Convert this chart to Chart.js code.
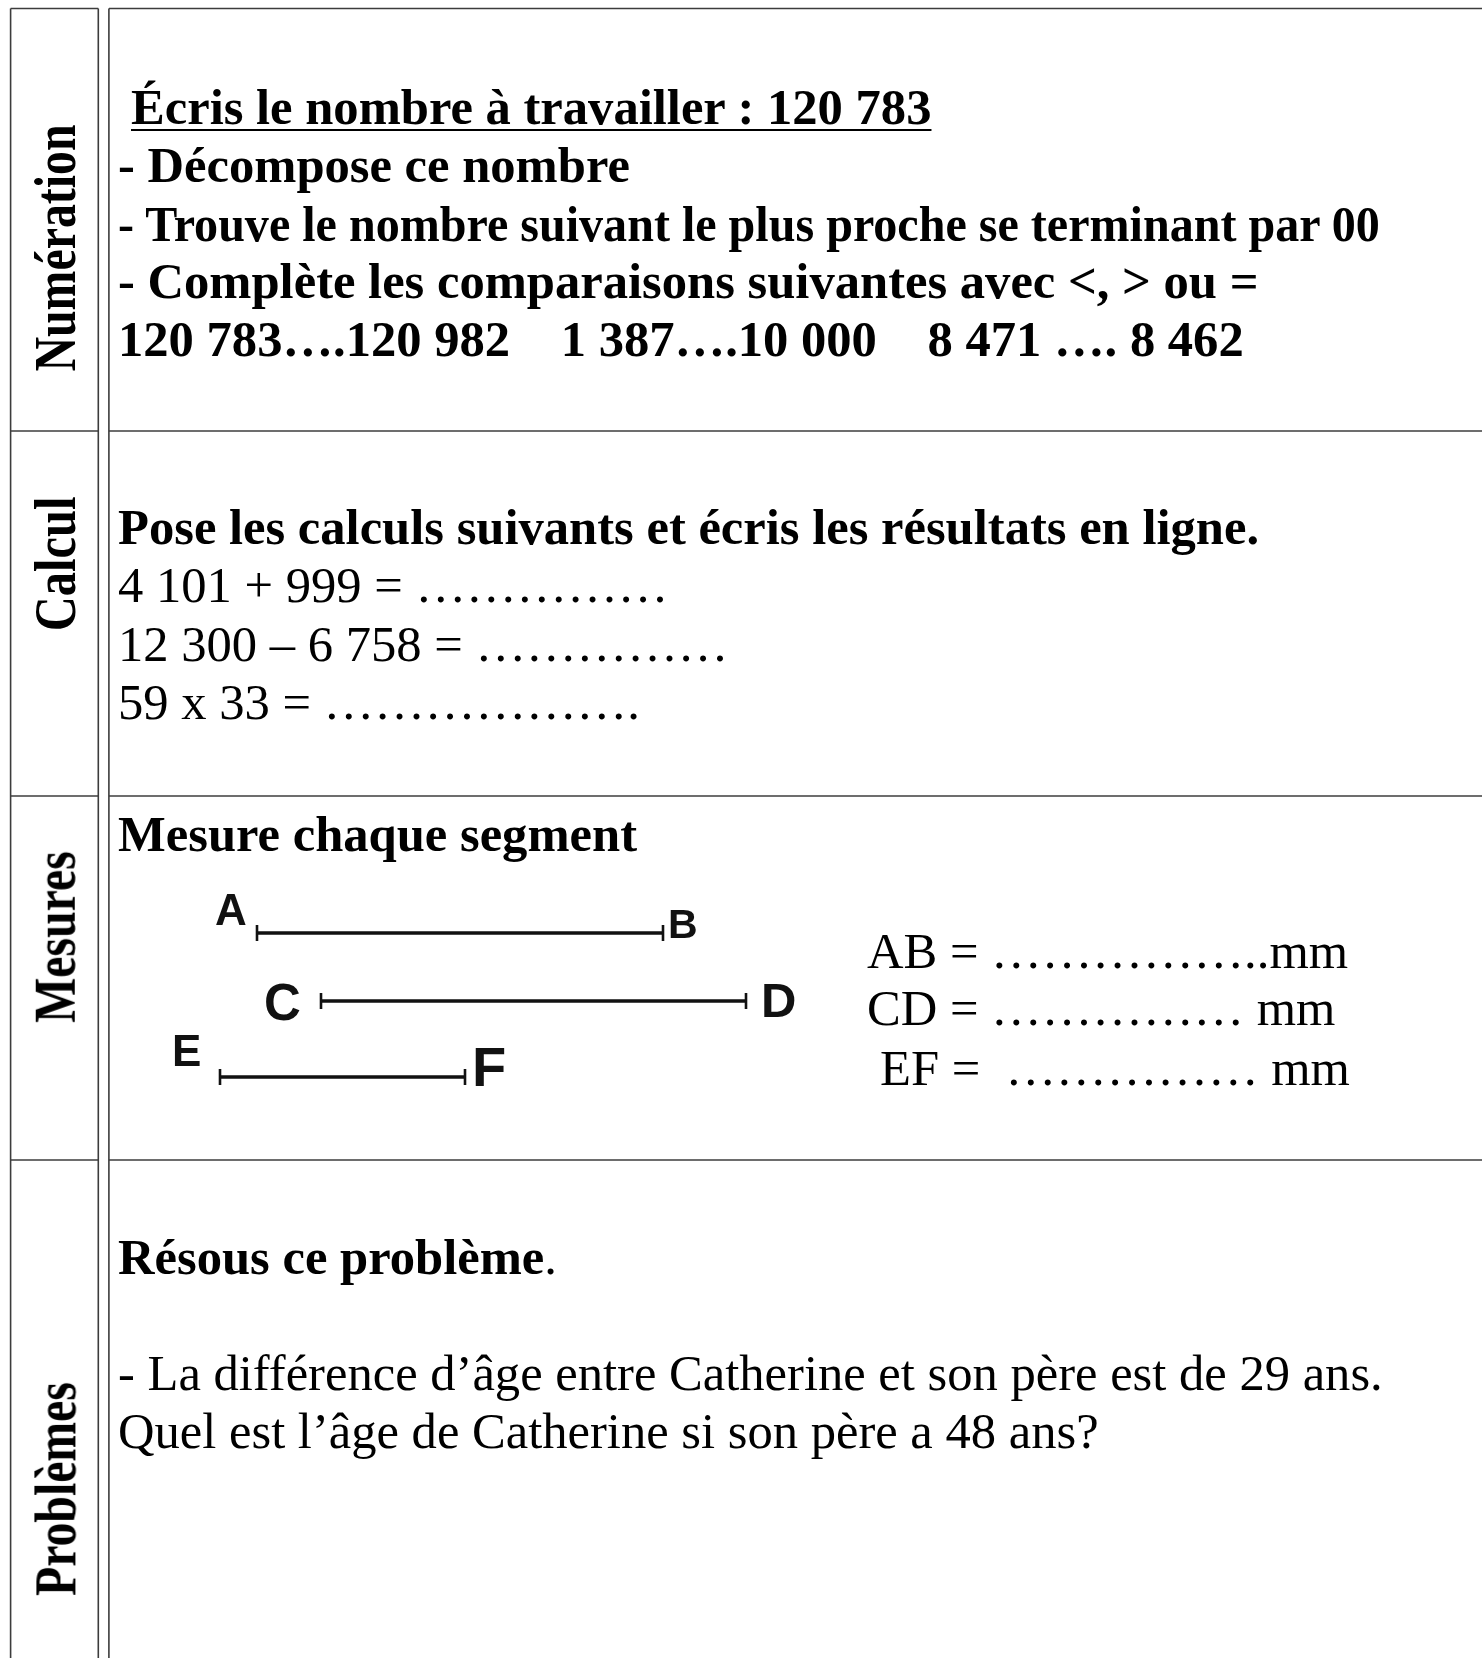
<!DOCTYPE html>
<html>
<head>
<meta charset="utf-8">
<script src="https://cdn.jsdelivr.net/npm/chart.js@4.4.0/dist/chart.umd.min.js"></script>
<style>
  html, body { margin: 0; padding: 0; background: #fff; overflow: hidden; }
  #page { position: relative; width: 1482px; height: 1658px; }
  #chart { position: absolute; left: 0; top: 0; }
  .t { position: absolute; white-space: pre; line-height: 1; color: #000;
       font-family: "Liberation Serif", "Times New Roman", serif; }
  .b { font-weight: bold; }
  .s { font-family: "Liberation Sans", Arial, sans-serif; font-weight: bold; color: #111; }
  .u { text-decoration: underline; text-decoration-thickness: 2px; text-underline-offset: 5px; }
  .n { transform: scaleX(0.95); transform-origin: 0 50%; }
  .rot { position: absolute; white-space: pre; line-height: 1; font-weight: bold;
         font-family: "Liberation Serif", "Times New Roman", serif; }
</style>
</head>
<body>
<div id="page">
  <canvas id="chart" width="1482" height="1658"></canvas>
</div>
<script>
// Row titles on the left column
const rowTitles = ["Numération", "Calcul", "Mesures", "Problèmes"];
const rowCenters = [248, 564, 937, 1489];

// Table grid (page units)
const colLines = [10.6, 98.3, 108.9];
const rowLines = [8.5, 431, 796, 1160];

// Segments to measure
const segNames = ["AB", "CD", "EF"];
const segStart = [257, 321, 220];
const segEnd = [663, 746, 465];
const segY = [933, 1001, 1077];

// Endpoint letters: letter, left x, baseline, size
const pointLabels = [
    ["A", 215, 925, 44],
    ["B", 668, 939, 41],
    ["C", 264, 1020, 51],
    ["D", 761, 1017, 49],
    ["E", 172, 1066, 44],
    ["F", 472, 1086, 56],
];

// Text lines: text, x, baseline, class
const textLines = [
    ["Écris le nombre à travailler : 120 783", 131, 124, "b u"],
    ["- Décompose ce nombre", 118, 182, "b"],
    ["- Trouve le nombre suivant le plus proche se terminant par 00", 118, 241, "b n"],
    ["- Complète les comparaisons suivantes avec <, > ou =", 118, 298, "b"],
    ["120 783….120 982    1 387….10 000    8 471 …. 8 462", 118, 356, "b"],
    ["Pose les calculs suivants et écris les résultats en ligne.", 118, 544, "b"],
    ["4 101 + 999 = ……………", 118, 602, ""],
    ["12 300 – 6 758 = ……………", 118, 661, ""],
    ["59 x 33 = ……………….", 118, 719, ""],
    ["Mesure chaque segment", 118, 851, "b"],
    ["AB = ……………..mm", 867, 968, ""],
    ["CD = …………… mm", 867, 1025, ""],
    ["EF =  …………… mm", 880, 1085, ""],
    ["- La différence d’âge entre Catherine et son père est de 29 ans.", 118, 1390, ""],
    ["Quel est l’âge de Catherine si son père a 48 ans?", 118, 1448, ""],
];

const page = document.getElementById("page");
const FS = 50.6;

textLines.forEach(([txt, x, base, cls]) => {
    const d = document.createElement("div");
    d.className = "t " + cls;
    d.style.fontSize = FS + "px";
    d.style.left = x + "px";
    d.style.top = (base - 0.8375 * FS) + "px";
    d.textContent = txt;
    page.appendChild(d);
});

// "Résous ce problème." : bold words, regular full stop
{
    const d = document.createElement("div");
    d.className = "t";
    d.style.fontSize = FS + "px";
    d.style.left = "118px";
    d.style.top = (1274 - 0.8375 * FS) + "px";
    d.innerHTML = '<b>Résous ce problème</b>.';
    page.appendChild(d);
}

pointLabels.forEach(([letter, x, base, size]) => {
    const d = document.createElement("div");
    d.className = "t s";
    d.style.fontSize = size + "px";
    d.style.top = (base - 0.8465 * size) + "px";
    d.style.left = x + "px";
    d.textContent = letter;
    page.appendChild(d);
});

const titleLen = [247, 135, 172, 214];
rowTitles.forEach((name, i) => {
    const d = document.createElement("div");
    d.className = "rot";
    d.style.fontSize = "60px";
    d.textContent = name;
    page.appendChild(d);
    const w = d.offsetWidth, h = d.offsetHeight;
    const k = titleLen[i] / w;
    d.style.left = (55 - w / 2) + "px";
    d.style.top = (rowCenters[i] - h / 2) + "px";
    d.style.transform = `rotate(-90deg) scaleX(${k})`;
});

// Chart: grid lines and segments on a page-sized linear scale
const gridColor = "#3c3c3c";
const datasets = [];
colLines.forEach((x) => {
    datasets.push({
        data: [{ x: x, y: rowLines[0] }, { x: x, y: 1658 }],
        showLine: true, borderColor: gridColor, borderWidth: 1.6, pointRadius: 0,
    });
});
rowLines.forEach((y) => {
    datasets.push({
        data: [{ x: colLines[0], y: y }, { x: colLines[1], y: y }],
        showLine: true, borderColor: gridColor, borderWidth: 1.6, pointRadius: 0,
    });
    datasets.push({
        data: [{ x: colLines[2], y: y }, { x: 1482, y: y }],
        showLine: true, borderColor: gridColor, borderWidth: 1.6, pointRadius: 0,
    });
});
segNames.forEach((name, i) => {
    datasets.push({
        label: name,
        data: [{ x: segStart[i], y: segY[i] }, { x: segEnd[i], y: segY[i] }],
        showLine: true, borderColor: "#111", borderWidth: 3.4,
        pointStyle: "line", rotation: 90, pointRadius: 8,
        pointBorderColor: "#111", pointBorderWidth: 2.6,
    });
});

new Chart(document.getElementById("chart").getContext("2d"), {
    type: "scatter",
    data: { datasets: datasets },
    options: {
        responsive: false,
        animation: false,
        layout: { padding: 0, autoPadding: false },
        scales: {
            x: { type: "linear", min: 0, max: 1482, display: false },
            y: { type: "linear", min: 0, max: 1658, reverse: true, display: false },
        },
        plugins: { legend: { display: false }, tooltip: { enabled: false } },
        elements: { line: { tension: 0 } },
    },
});
</script>
</body>
</html>
